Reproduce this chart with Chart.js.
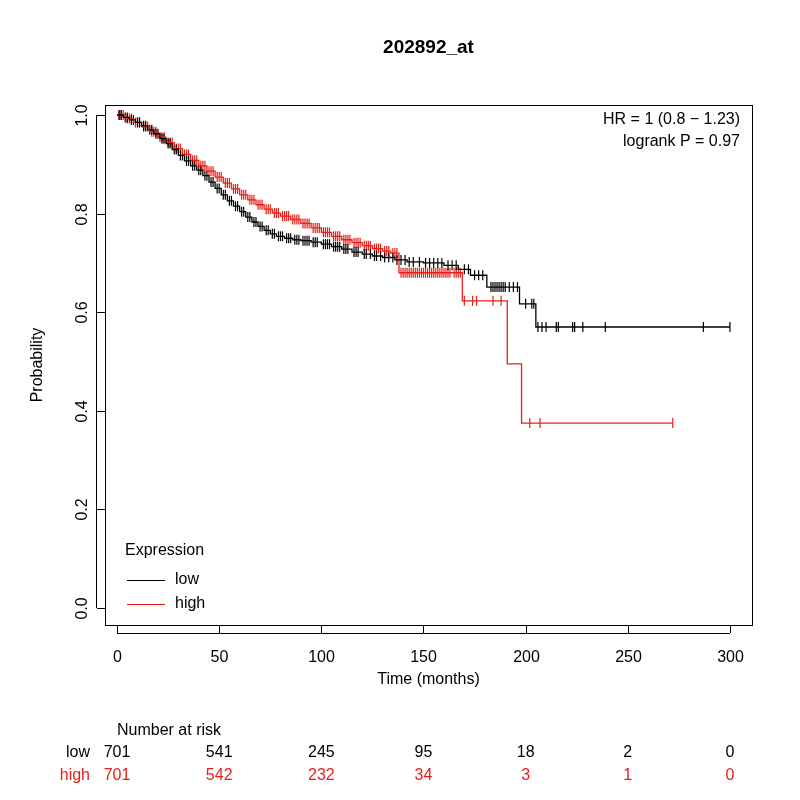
<!DOCTYPE html>
<html>
<head>
<meta charset="utf-8">
<script src="https://cdn.jsdelivr.net/npm/chart.js@4/dist/chart.umd.min.js"></script>
<style>
  html, body { margin: 0; padding: 0; background: #fff; }
  #wrap { width: 800px; height: 800px; }
</style>
</head>
<body>
<div id="wrap"><canvas id="km"></canvas></div>
<script>
// Kaplan-Meier steps
const lowTimes = [0, 3, 6, 9, 12, 15, 18, 21, 24, 27, 30, 33, 36, 39, 42, 45, 48, 51, 54, 57, 60, 63, 66, 69, 72, 75, 78, 82, 86, 90, 95, 100, 105, 110, 115, 120, 125, 130, 136, 142, 150, 160, 167, 173, 181, 197, 205, 300];
const lowSurv  = [1, 0.995, 0.99, 0.985, 0.978, 0.97, 0.962, 0.952, 0.942, 0.93, 0.918, 0.907, 0.897, 0.888, 0.877, 0.864, 0.851, 0.838, 0.826, 0.815, 0.804, 0.793, 0.783, 0.774, 0.766, 0.759, 0.754, 0.75, 0.747, 0.745, 0.742, 0.738, 0.733, 0.728, 0.722, 0.718, 0.714, 0.711, 0.706, 0.702, 0.7, 0.695, 0.687, 0.675, 0.651, 0.617, 0.57, 0.57];
const highTimes = [0, 4, 8, 12, 16, 20, 24, 28, 32, 36, 40, 44, 48, 52, 56, 60, 64, 68, 72, 76, 80, 85, 90, 95, 100, 105, 110, 115, 120, 125, 130, 134, 138, 169, 191, 198, 272];
const highSurv  = [1, 0.993, 0.985, 0.976, 0.966, 0.955, 0.944, 0.932, 0.92, 0.908, 0.897, 0.886, 0.874, 0.862, 0.85, 0.838, 0.828, 0.818, 0.809, 0.801, 0.795, 0.788, 0.78, 0.771, 0.762, 0.754, 0.747, 0.741, 0.735, 0.729, 0.724, 0.72, 0.68, 0.623, 0.495, 0.375, 0.375];

// censoring times
const lowCensor = [1, 2, 4, 5, 7, 8, 10, 11, 13, 14, 16, 17, 19, 20, 22, 23, 25, 26, 28, 29, 31, 32, 34, 35, 37, 38, 40, 41, 43, 44, 46, 47, 49, 50, 52, 53, 55, 56, 58, 59, 61, 62, 64, 65, 67, 68, 70, 71, 73, 74, 76, 77, 79, 80, 81, 83, 84, 85, 87, 88, 89, 91, 92, 93, 94, 96, 97, 98, 101, 102, 103, 104, 106, 107, 108, 109, 111, 112, 113, 116, 117, 118, 121, 122, 124, 126, 127, 129, 131, 133, 135, 137, 139, 141, 143, 145, 148, 151, 153, 155, 157, 159, 162, 164, 166, 170, 172, 175, 177, 179, 183, 184, 185, 186, 187, 188, 189, 190, 192, 194, 196, 200, 203, 204, 206, 208, 210, 215, 216, 223, 224, 228, 239, 287, 300];
const highCensor = [1, 2, 3, 5, 6, 7, 9, 10, 11, 13, 14, 15, 17, 18, 19, 21, 22, 23, 25, 26, 27, 29, 30, 31, 33, 34, 35, 37, 38, 39, 41, 42, 43, 45, 46, 47, 49, 50, 51, 53, 54, 55, 57, 58, 59, 61, 62, 63, 65, 66, 67, 69, 70, 71, 73, 74, 75, 77, 78, 79, 81, 82, 83, 84, 86, 87, 88, 89, 91, 92, 93, 94, 96, 97, 98, 99, 101, 102, 103, 104, 106, 107, 108, 109, 111, 112, 113, 114, 116, 117, 118, 119, 121, 122, 123, 124, 126, 127, 128, 129, 131, 132, 133, 135, 136, 137, 139, 140, 141, 142, 143, 144, 145, 146, 147, 148, 149, 150, 151, 152, 153, 154, 155, 156, 157, 158, 159, 160, 161, 162, 163, 165, 166, 167, 168, 170, 174, 176, 184, 188, 202, 207, 272];

const xTicks = [0, 50, 100, 150, 200, 250, 300];
const yTicks = [0, 0.2, 0.4, 0.6, 0.8, 1.0];
const riskLow = [701, 541, 245, 95, 18, 2, 0];
const riskHigh = [701, 542, 232, 34, 3, 1, 0];

const RED = '#e8201a';
const FONT = '"Liberation Sans", Arial, sans-serif';

function survAt(times, surv, t) {
  let s = surv[0];
  for (let i = 0; i < times.length; i++) { if (times[i] <= t) s = surv[i]; }
  return s;
}
const steps = (times, surv) => times.map((t, i) => ({ x: t, y: surv[i] }));
const marks = (cs, times, surv) => cs.map(t => ({ x: t, y: survAt(times, surv, t) }));

const decor = {
  id: 'decor',
  afterDraw(chart) {
    const { ctx, chartArea: a, scales: { x, y } } = chart;
    ctx.save();
    ctx.strokeStyle = '#000'; ctx.lineWidth = 1; ctx.fillStyle = '#000';
    ctx.strokeRect(a.left + 0.5, a.top + 0.5, a.right - a.left, a.bottom - a.top);
    ctx.font = '16px ' + FONT;
    ctx.textAlign = 'center'; ctx.textBaseline = 'top';
    xTicks.forEach(v => {
      const px = Math.round(x.getPixelForValue(v)) + 0.5;
      ctx.beginPath(); ctx.moveTo(px, a.bottom); ctx.lineTo(px, a.bottom + 8); ctx.stroke();
      ctx.fillText(String(v), px, a.bottom + 25);
    });
    ctx.beginPath();
    ctx.moveTo(x.getPixelForValue(0), a.bottom + 8.5); ctx.lineTo(x.getPixelForValue(300), a.bottom + 8.5);
    ctx.stroke();
    yTicks.forEach(v => {
      const py = Math.round(y.getPixelForValue(v)) + 0.5;
      ctx.beginPath(); ctx.moveTo(a.left, py); ctx.lineTo(a.left - 8, py); ctx.stroke();
      ctx.save(); ctx.translate(a.left - 22, py); ctx.rotate(-Math.PI / 2);
      ctx.textBaseline = 'middle'; ctx.fillText(v.toFixed(1), 0, 0); ctx.restore();
    });
    ctx.beginPath();
    ctx.moveTo(a.left - 8.5, y.getPixelForValue(0)); ctx.lineTo(a.left - 8.5, y.getPixelForValue(1));
    ctx.stroke();
    // titles
    const cx = (a.left + a.right) / 2;
    ctx.font = 'bold 19px ' + FONT; ctx.textBaseline = 'middle';
    ctx.fillText('202892_at', cx, 48);
    ctx.font = '16px ' + FONT;
    ctx.fillText('Time (months)', cx, 680);
    ctx.save(); ctx.translate(38, (a.top + a.bottom) / 2); ctx.rotate(-Math.PI / 2);
    ctx.fillText('Probability', 0, 0); ctx.restore();
    // HR text
    ctx.textAlign = 'right';
    ctx.fillText('HR = 1 (0.8 \u2212 1.23)', 740, 120);
    ctx.fillText('logrank P = 0.97', 740, 142);
    // legend
    ctx.textAlign = 'left';
    ctx.fillText('Expression', 125, 551);
    ctx.fillText('low', 175, 580);
    ctx.fillText('high', 175, 604);
    ctx.beginPath(); ctx.moveTo(127, 580.5); ctx.lineTo(165, 580.5); ctx.stroke();
    ctx.strokeStyle = RED;
    ctx.beginPath(); ctx.moveTo(127, 604.5); ctx.lineTo(165, 604.5); ctx.stroke();
    // number at risk
    ctx.fillStyle = '#000';
    ctx.fillText('Number at risk', 117, 731);
    ctx.textAlign = 'right';
    ctx.fillText('low', 90, 753);
    ctx.fillStyle = RED; ctx.fillText('high', 90, 776);
    ctx.textAlign = 'center';
    xTicks.forEach((v, i) => {
      const px = x.getPixelForValue(v);
      ctx.fillStyle = '#000'; ctx.fillText(String(riskLow[i]), px, 753);
      ctx.fillStyle = RED; ctx.fillText(String(riskHigh[i]), px, 776);
    });
    ctx.restore();
  }
};

new Chart(document.getElementById('km'), {
  type: 'scatter',
  data: {
    datasets: [
      { label: 'low', data: steps(lowTimes, lowSurv), showLine: true, stepped: 'before', borderColor: '#000', borderWidth: 1.3, pointRadius: 0 },
      { label: 'high', data: steps(highTimes, highSurv), showLine: true, stepped: 'before', borderColor: RED, borderWidth: 1.3, pointRadius: 0 },
      { label: 'lowc', data: marks(lowCensor, lowTimes, lowSurv), pointStyle: 'line', rotation: 90, radius: 5, borderColor: '#000', borderWidth: 1.2 },
      { label: 'highc', data: marks(highCensor, highTimes, highSurv), pointStyle: 'line', rotation: 90, radius: 5, borderColor: RED, borderWidth: 1.2 }
    ]
  },
  options: {
    responsive: true,
    maintainAspectRatio: false,
    animation: false,
    layout: { padding: { left: 105, right: 48, top: 105, bottom: 175 } },
    plugins: { legend: { display: false }, tooltip: { enabled: false } },
    scales: {
      x: { type: 'linear', min: -5.9, max: 310.8, display: false },
      y: { type: 'linear', min: -0.0345, max: 1.0203, display: false }
    }
  },
  plugins: [decor]
});
</script>
</body>
</html>
